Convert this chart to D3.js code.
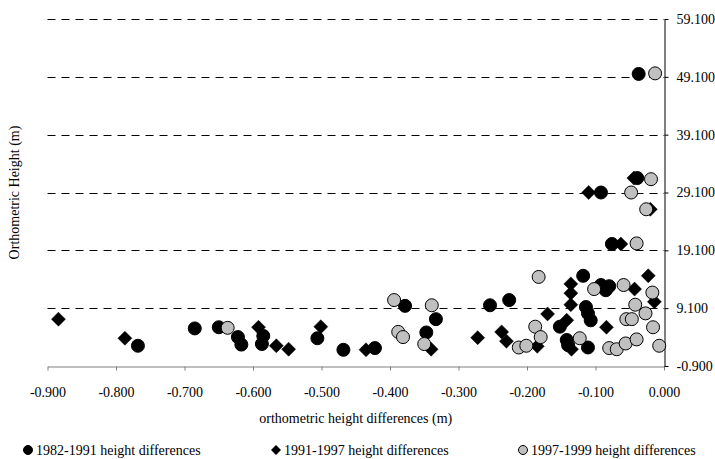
<!DOCTYPE html>
<html>
<head>
<meta charset="utf-8">
<script src="https://cdn.jsdelivr.net/npm/d3@7"></script>
<style>
  body { margin: 0; background: #fff; }
  svg text { font-family: "Liberation Serif", "Times New Roman", serif; fill: #000; }
</style>
</head>
<body>
<svg id="chart" width="715" height="459"></svg>
<script>
var width = 715,
  height = 459,
  margin = { left: 47.5, right: 51, top: 19, bottom: 93 };

// axis ticks
var xTicks = [-0.9, -0.8, -0.7, -0.6, -0.5, -0.4, -0.3, -0.2, -0.1, 0.0];
var yTicks = [-0.9, 9.1, 19.1, 29.1, 39.1, 49.1, 59.1];

var seriesNames = ["1982-1991 height differences", "1991-1997 height differences", "1997-1999 height differences"];

// 1982-1991 (black circles)
var diff8291 = [-0.768, -0.685, -0.650, -0.622, -0.617, -0.585, -0.587, -0.506, -0.468, -0.422,
  -0.378, -0.347, -0.333, -0.254, -0.226, -0.118, -0.114, -0.111, -0.107, -0.152,
  -0.142, -0.140, -0.111, -0.092, -0.085, -0.080, -0.092, -0.076, -0.039, -0.037];
var height8291 = [2.6, 5.6, 5.8, 4.1, 2.8, 4.3, 2.9, 3.9, 1.9, 2.2,
  9.5, 4.9, 7.2, 9.6, 10.5, 14.7, 9.3, 8.2, 7.0, 5.9,
  3.6, 2.7, 2.3, 13.1, 12.2, 12.9, 29.1, 20.2, 31.6, 49.6];

// 1991-1997 (black diamonds)
var diff9197 = [-0.884, -0.787, -0.592, -0.566, -0.548, -0.501, -0.435, -0.340, -0.272, -0.237,
  -0.230, -0.185, -0.170, -0.136, -0.136, -0.136, -0.142, -0.135, -0.084, -0.043,
  -0.023, -0.014, -0.110, -0.063, -0.020, -0.044];
var height9197 = [7.2, 3.9, 5.8, 2.6, 2.0, 5.9, 1.9, 2.0, 4.0, 5.0,
  3.4, 2.5, 8.1, 13.3, 11.7, 9.7, 7.0, 2.0, 5.8, 12.4,
  14.7, 10.2, 29.1, 20.2, 26.2, 31.6];

// 1997-1999 (grey circles)
var diff9799 = [-0.637, -0.394, -0.388, -0.381, -0.339, -0.350, -0.212, -0.201, -0.188, -0.180,
  -0.183, -0.123, -0.102, -0.080, -0.069, -0.056, -0.040, -0.059, -0.042, -0.055,
  -0.047, -0.027, -0.017, -0.016, -0.007, -0.048, -0.026, -0.019, -0.040, -0.013];
var height9799 = [5.7, 10.5, 5.0, 4.1, 9.6, 2.9, 2.3, 2.6, 5.9, 4.1,
  14.5, 3.9, 12.4, 2.2, 2.0, 3.0, 3.7, 13.1, 9.7, 7.2,
  7.2, 8.2, 11.8, 5.8, 2.6, 29.1, 26.2, 31.4, 20.3, 49.7];

function pairs(xs, ys) {
  return xs.map(function (d, i) { return { x: d, y: ys[i] }; });
}

var series = [
  { name: seriesNames[0], shape: "circle", fill: "#000", points: pairs(diff8291, height8291) },
  { name: seriesNames[1], shape: "diamond", fill: "#000", points: pairs(diff9197, height9197) },
  { name: seriesNames[2], shape: "circle", fill: "#c0c0c0", points: pairs(diff9799, height9799) }
];

var chart = d3.select("#chart");

var x = d3.scaleLinear()
  .domain([-0.9, 0])
  .range([margin.left, width - margin.right]);

var y = d3.scaleLinear()
  .domain([-0.9, 59.1])
  .range([height - margin.bottom, margin.top]);

// plain hyphen instead of unicode minus, like the original
var fmt3 = function (d) { return d3.format(".3f")(d).replace("\u2212", "-"); };

var markerR = 6.5;
function diamondPath(r) {
  return "M0," + (-r) + "L" + r + ",0L0," + r + "L" + (-r) + ",0Z";
}

// dashed gridlines
chart.append("g")
  .selectAll("line")
  .data(yTicks.slice(1))
  .enter().append("line")
    .attr("x1", x(-0.9))
    .attr("x2", x(0))
    .attr("y1", function (d) { return Math.round(y(d)) + 0.5; })
    .attr("y2", function (d) { return Math.round(y(d)) + 0.5; })
    .attr("stroke", "#000")
    .attr("stroke-width", 1)
    .attr("stroke-dasharray", "8,6");

// x axis (bottom)
var xAxis = d3.axisBottom(x)
  .tickValues(xTicks)
  .tickSize(4)
  .tickSizeOuter(0)
  .tickPadding(17)
  .tickFormat(fmt3);

var gx = chart.append("g")
  .attr("transform", "translate(0," + (Math.round(y(-0.9)) + 0.5) + ")")
  .call(xAxis);
gx.attr("font-family", null);
gx.select(".domain").attr("stroke", "#808080");
gx.selectAll(".tick line").attr("stroke", "#808080");
gx.selectAll(".tick text")
  .style("font-size", "14px")
  .style("font-family", "Liberation Serif");

// y axis (right side)
var yAxis = d3.axisRight(y)
  .tickValues(yTicks)
  .tickSize(4)
  .tickSizeOuter(0)
  .tickPadding(8)
  .tickFormat(fmt3);

var gy = chart.append("g")
  .attr("transform", "translate(" + (Math.round(x(0)) + 0.5) + ",0)")
  .call(yAxis);
gy.attr("font-family", null);
gy.select(".domain").attr("stroke", "#000");
gy.selectAll(".tick line").attr("stroke", "#000");
gy.selectAll(".tick text")
  .style("font-size", "14px")
  .style("font-family", "Liberation Serif");

// points
series.forEach(function (s) {
  var g = chart.append("g").attr("class", "series");
  var marks = g.selectAll(".mark")
    .data(s.points)
    .enter();
  if (s.shape === "circle") {
    marks.append("circle")
      .attr("class", "mark")
      .attr("cx", function (d) { return x(d.x); })
      .attr("cy", function (d) { return y(d.y); })
      .attr("r", markerR)
      .attr("fill", s.fill)
      .attr("stroke", "#000")
      .attr("stroke-width", 1);
  } else {
    marks.append("path")
      .attr("class", "mark")
      .attr("d", diamondPath(markerR + 0.5))
      .attr("transform", function (d) { return "translate(" + x(d.x) + "," + y(d.y) + ")"; })
      .attr("fill", s.fill)
      .attr("stroke", "#000")
      .attr("stroke-width", 0.5);
  }
});

// axis titles
chart.append("text")
  .attr("x", (x(-0.9) + x(0)) / 2)
  .attr("y", 423)
  .attr("text-anchor", "middle")
  .style("font-size", "14px")
  .text("orthometric height differences  (m)");

chart.append("text")
  .attr("transform", "translate(19," + ((y(-0.9) + y(59.1)) / 2) + ") rotate(-90)")
  .attr("text-anchor", "middle")
  .style("font-size", "14px")
  .text("Orthometric Height (m)");

// legend
var legendX = [28, 276, 523];
var legend = chart.append("g")
  .selectAll("g")
  .data(series)
  .enter().append("g")
    .attr("transform", function (d, i) { return "translate(" + legendX[i] + ",450)"; });

legend.each(function (d) {
  var g = d3.select(this);
  if (d.shape === "circle") {
    g.append("circle").attr("r", 4.5).attr("fill", d.fill).attr("stroke", "#000").attr("stroke-width", 1);
  } else {
    g.append("path").attr("d", diamondPath(5)).attr("fill", d.fill);
  }
  g.append("text")
    .attr("x", 8)
    .attr("y", 5)
    .style("font-size", "14px")
    .text(d.name);
});
</script>
</body>
</html>
